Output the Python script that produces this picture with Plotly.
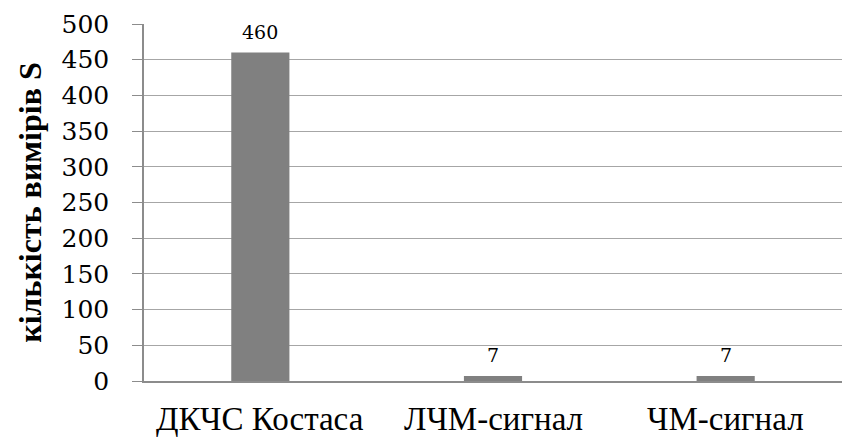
import plotly.graph_objects as go

categories = ["ДКЧС Костаса", "ЛЧМ-сигнал", "ЧМ-сигнал"]
counts = [460, 7, 7]
y_ticks = [0, 50, 100, 150, 200, 250, 300, 350, 400, 450, 500]

serif = "Liberation Serif"
wide_serif = "DejaVu Serif"
bar_color = "#808080"
grid_color = "#a6a6a6"
axis_color = "#8c8c8c"

fig = go.Figure(
    go.Bar(
        x=categories,
        y=counts,
        width=0.25,
        marker=dict(color=bar_color, line=dict(width=0)),
        hoverinfo="skip",
    )
)

# value labels above each bar
for cat, val in zip(categories, counts):
    fig.add_annotation(
        x=cat, y=val, text=str(val), showarrow=False,
        yanchor="bottom", yshift=8,
        font=dict(family=wide_serif, size=19, color="#000000"),
    )

# category names under the axis, placed on the category scale
for cat in categories:
    fig.add_annotation(
        x=cat, xref="x", y=0, yref="paper", text=cat, showarrow=False,
        yanchor="top", yshift=-18,
        font=dict(family=serif, size=33, color="#000000"),
    )

fig.update_layout(
    width=850, height=443,
    margin=dict(l=144, r=8, t=24, b=62),
    paper_bgcolor="white", plot_bgcolor="white",
    showlegend=False,
    font=dict(family=wide_serif, color="#000000"),
    bargap=0.75,
)

fig.update_xaxes(
    showgrid=False, automargin=False,
    showline=True, linecolor=axis_color, linewidth=1.5,
    ticks="", showticklabels=False,
)

fig.update_yaxes(
    range=[0, 500], automargin=False,
    tickvals=y_ticks,
    showgrid=True, gridcolor=grid_color, gridwidth=1.2,
    showline=True, linecolor=axis_color, linewidth=1.5,
    ticks="outside", ticklen=10, tickcolor=axis_color, tickwidth=1.2,
    ticklabelstandoff=18,
    tickfont=dict(size=25, color="#000000"),
    zeroline=False,
    title=dict(
        text="<b>кількість вимірів S</b>",
        font=dict(family=serif, size=32, color="#000000"),
        standoff=10,
    ),
)

fig.write_html("out.html")
